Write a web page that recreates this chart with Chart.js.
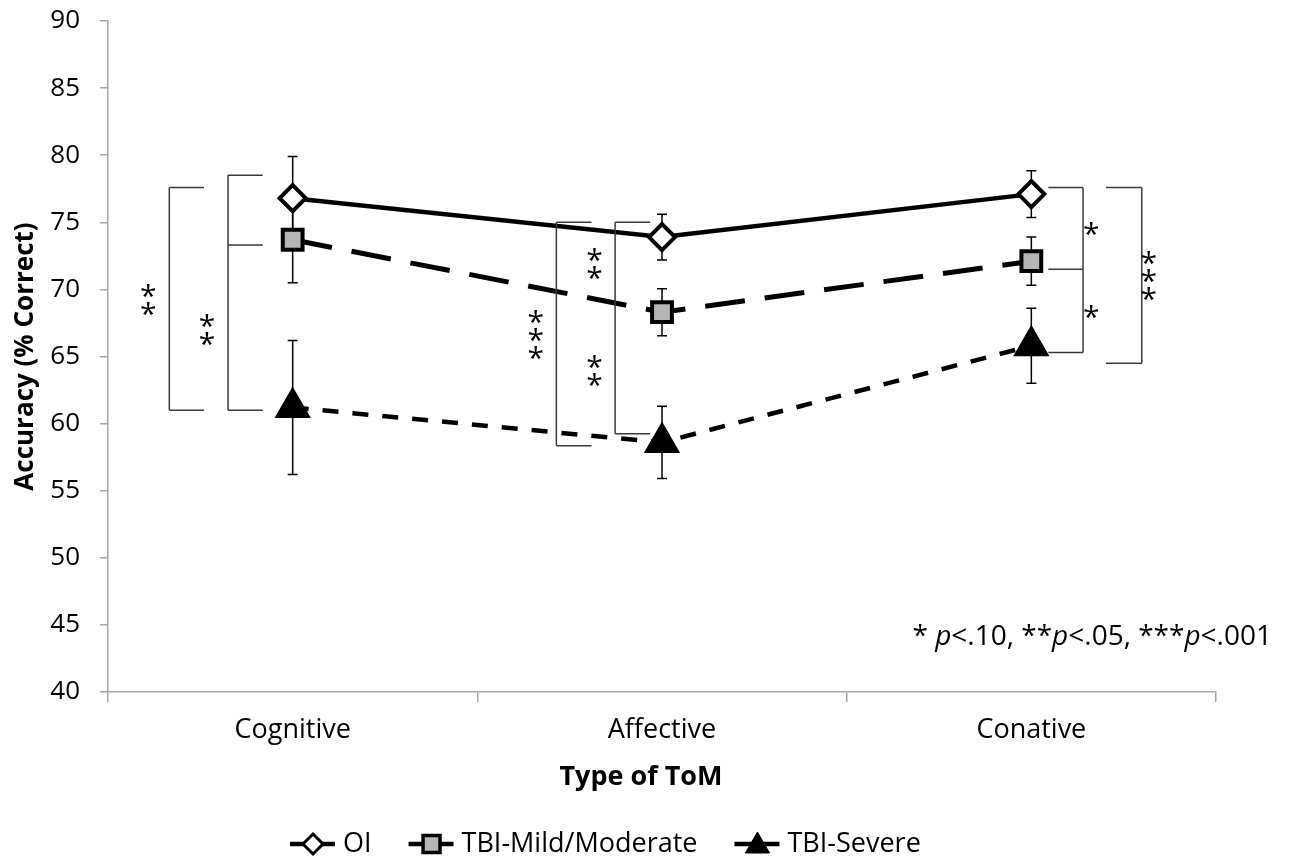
<!DOCTYPE html>
<html lang="en">
<head>
    <meta charset="UTF-8">
    <title>Accuracy by Type of ToM</title>
    <script src="https://cdn.jsdelivr.net/npm/chart.js"></script>
    <style>
        html, body { margin: 0; padding: 0; background: #fff; }
        #wrap { width: 1291px; height: 861px; }
    </style>
</head>
<body>
    <div id="wrap"><canvas id="myChart"></canvas></div>

    <script>
        // data
        var categories = ['Cognitive', 'Affective', 'Conative'];
        var oiValues = [76.8, 73.9, 77.1];
        var oiErrors = [3.1, 1.7, 1.75];
        var mildValues = [73.7, 68.3, 72.1];
        var mildErrors = [3.2, 1.75, 1.8];
        var severeValues = [61.2, 58.6, 65.8];
        var severeErrors = [5.0, 2.7, 2.8];
        var yTicks = [40, 45, 50, 55, 60, 65, 70, 75, 80, 85, 90];

        // significance brackets: category, bracket ends in y units
        var bracketCats = [0, 0, 1, 1, 2, 2];
        var bracketLevels = [[77.6, 61.0], [78.5, 73.3, 61.0], [75.0, 58.35], [75.0, 59.25], [77.6, 71.5, 65.3], [77.6, 64.5]];
        // star labels: category, y centre, number of stars
        var starCats = [0, 0, 1, 1, 1, 2, 2, 2];
        var starLevels = [69.2, 67.0, 66.6, 71.9, 63.9, 74.5, 68.3, 71.0];
        var starCounts = [2, 2, 3, 2, 2, 1, 1, 3];

        // horizontal placement of brackets / stars (fraction of a category step)
        var bracketSpine = [-0.334, -0.175, -0.286, -0.127, 0.140, 0.299];
        var bracketArm = [-0.240, -0.081, -0.191, -0.032, 0.046, 0.202];
        var starOffset = [-0.391, -0.232, -0.342, -0.183, -0.183, 0.162, 0.162, 0.318];

        var FONT = '"Open Sans", Lato, sans-serif';
        var errorSets = [oiErrors, mildErrors, severeErrors];

        function catPixel(x, cat, frac) {
            var step = x.getPixelForValue(1) - x.getPixelForValue(0);
            return x.getPixelForValue(cat) + frac * step;
        }

        var errorBars = {
            id: 'errorBars',
            beforeDatasetsDraw: function (chart) {
                var ctx = chart.ctx;
                var y = chart.scales.y;
                ctx.save();
                ctx.strokeStyle = '#000';
                ctx.lineWidth = 1.5;
                chart.data.datasets.forEach(function (ds, i) {
                    var meta = chart.getDatasetMeta(i);
                    meta.data.forEach(function (pt, j) {
                        var v = ds.data[j], e = errorSets[i][j];
                        var top = y.getPixelForValue(v + e), bot = y.getPixelForValue(v - e);
                        ctx.beginPath();
                        ctx.moveTo(pt.x, top); ctx.lineTo(pt.x, bot);
                        ctx.moveTo(pt.x - 5, top); ctx.lineTo(pt.x + 5, top);
                        ctx.moveTo(pt.x - 5, bot); ctx.lineTo(pt.x + 5, bot);
                        ctx.stroke();
                    });
                });
                ctx.restore();
            }
        };

        var brackets = {
            id: 'brackets',
            afterDatasetsDraw: function (chart) {
                var ctx = chart.ctx;
                var x = chart.scales.x, y = chart.scales.y;
                ctx.save();
                ctx.strokeStyle = '#3a3a3a';
                ctx.lineWidth = 1.5;
                bracketCats.forEach(function (c, i) {
                    var sx = catPixel(x, c, bracketSpine[i]);
                    var ax = catPixel(x, c, bracketArm[i]);
                    var lv = bracketLevels[i];
                    ctx.beginPath();
                    ctx.moveTo(sx, y.getPixelForValue(lv[0]));
                    ctx.lineTo(sx, y.getPixelForValue(lv[lv.length - 1]));
                    lv.forEach(function (v) {
                        var py = y.getPixelForValue(v);
                        ctx.moveTo(sx, py); ctx.lineTo(ax, py);
                    });
                    ctx.stroke();
                });

                ctx.fillStyle = '#000';
                ctx.font = '30px ' + FONT;
                ctx.textAlign = 'center';
                ctx.textBaseline = 'alphabetic';
                var m = ctx.measureText('*');
                var shift = (m.actualBoundingBoxAscent - m.actualBoundingBoxDescent) / 2;
                var gap = 18;
                starCats.forEach(function (c, i) {
                    var px = catPixel(x, c, starOffset[i]);
                    var cy = y.getPixelForValue(starLevels[i]);
                    var n = starCounts[i];
                    for (var k = 0; k < n; k++) {
                        var py = cy + (k - (n - 1) / 2) * gap;
                        ctx.fillText('*', px, py + shift);
                    }
                });
                ctx.restore();
            }
        };

        var extras = {
            id: 'extras',
            afterDraw: function (chart) {
                var ctx = chart.ctx;
                ctx.save();
                ctx.fillStyle = '#000';
                ctx.textBaseline = 'middle';

                // x axis title
                ctx.font = 'bold 27px ' + FONT;
                ctx.textAlign = 'center';
                ctx.fillText('Type of ToM', 641, 777);

                // footnote, right aligned
                var parts = [['* ', false], ['p', true], ['<.10, **', false], ['p', true], ['<.05, ***', false], ['p', true], ['<.001', false]];
                var total = 0;
                parts.forEach(function (p) {
                    ctx.font = (p[1] ? 'italic ' : '') + '28px ' + FONT;
                    total += ctx.measureText(p[0]).width;
                });
                var fx = 1272 - total;
                ctx.textAlign = 'left';
                parts.forEach(function (p) {
                    ctx.font = (p[1] ? 'italic ' : '') + '28px ' + FONT;
                    ctx.fillText(p[0], fx, 637);
                    fx += ctx.measureText(p[0]).width;
                });

                // legend
                var lx = 290, ly = 844;
                var marks = [
                    { style: 'rectRot', r: 10, fill: '#fff', bw: 3 },
                    { style: 'rect', r: 12, fill: '#b5b5b5', bw: 3.5 },
                    { style: 'triangle', r: 14, fill: '#000', bw: 1 }
                ];
                chart.data.datasets.forEach(function (ds, i) {
                    ctx.strokeStyle = '#000';
                    ctx.lineWidth = 4.5;
                    ctx.setLineDash([]);
                    ctx.beginPath();
                    ctx.moveTo(lx, ly); ctx.lineTo(lx + 45, ly);
                    ctx.stroke();
                    ctx.fillStyle = marks[i].fill;
                    ctx.lineWidth = marks[i].bw;
                    Chart.helpers.drawPoint(ctx, { pointStyle: marks[i].style, radius: marks[i].r, rotation: 0, borderWidth: marks[i].bw }, lx + 23, ly + (i === 2 ? 2 : 0));
                    ctx.fillStyle = '#000';
                    ctx.font = '27px ' + FONT;
                    ctx.fillText(ds.label, lx + 53, ly);
                    lx += 53 + ctx.measureText(ds.label).width + 37;
                });
                ctx.restore();
            }
        };

        var ctx = document.getElementById('myChart').getContext('2d');
        var myChart = new Chart(ctx, {
            type: 'line',
            data: {
                labels: categories,
                datasets: [{
                    label: 'OI',
                    data: oiValues,
                    borderColor: '#000',
                    borderWidth: 4.5,
                    pointStyle: 'rectRot',
                    pointRadius: 13,
                    pointBorderWidth: 4,
                    pointBackgroundColor: '#fff',
                    pointBorderColor: '#000',
                    tension: 0
                }, {
                    label: 'TBI-Mild/Moderate',
                    data: mildValues,
                    borderColor: '#000',
                    borderWidth: 5,
                    borderDash: [40, 20],
                    pointStyle: 'rect',
                    pointRadius: 14,
                    pointBorderWidth: 4,
                    pointBackgroundColor: '#b5b5b5',
                    pointBorderColor: '#000',
                    tension: 0
                }, {
                    label: 'TBI-Severe',
                    data: severeValues,
                    borderColor: '#000',
                    borderWidth: 4.5,
                    borderDash: [16, 14],
                    pointStyle: 'triangle',
                    pointRadius: 19,
                    pointBorderWidth: 2,
                    pointBackgroundColor: '#000',
                    pointBorderColor: '#000',
                    tension: 0
                }]
            },
            options: {
                responsive: true,
                maintainAspectRatio: false,
                animation: false,
                layout: { padding: { left: 0, top: 19, right: 75, bottom: 51 } },
                plugins: {
                    legend: { display: false },
                    tooltip: { enabled: false }
                },
                scales: {
                    x: {
                        offset: true,
                        grid: { offset: true, drawOnChartArea: false, drawTicks: true, tickLength: 10, color: '#a6a6a6', lineWidth: 1.5 },
                        border: { color: '#a6a6a6', width: 1.5 },
                        ticks: { color: '#000', font: { family: FONT, size: 27 }, padding: 12 },
                        afterFit: function (scale) { scale.height = 118; }
                    },
                    y: {
                        min: 40,
                        max: 90,
                        afterBuildTicks: function (scale) {
                            scale.ticks = yTicks.map(function (v) { return { value: v }; });
                        },
                        grid: { drawOnChartArea: false, drawTicks: true, tickLength: 8, color: '#a6a6a6', lineWidth: 1.5 },
                        border: { color: '#a6a6a6', width: 1.5 },
                        ticks: { color: '#000', font: { family: FONT, size: 26 }, padding: 20 },
                        title: {
                            display: true,
                            text: 'Accuracy (% Correct)',
                            color: '#000',
                            font: { family: FONT, size: 26, weight: 'bold' },
                            padding: { top: 10, bottom: 0 }
                        },
                        afterFit: function (scale) {
                            scale.width = 108;
                            scale.paddingTop = 0;
                            scale.paddingBottom = 0;
                        }
                    }
                }
            },
            plugins: [errorBars, brackets, extras]
        });
    </script>
</body>
</html>
